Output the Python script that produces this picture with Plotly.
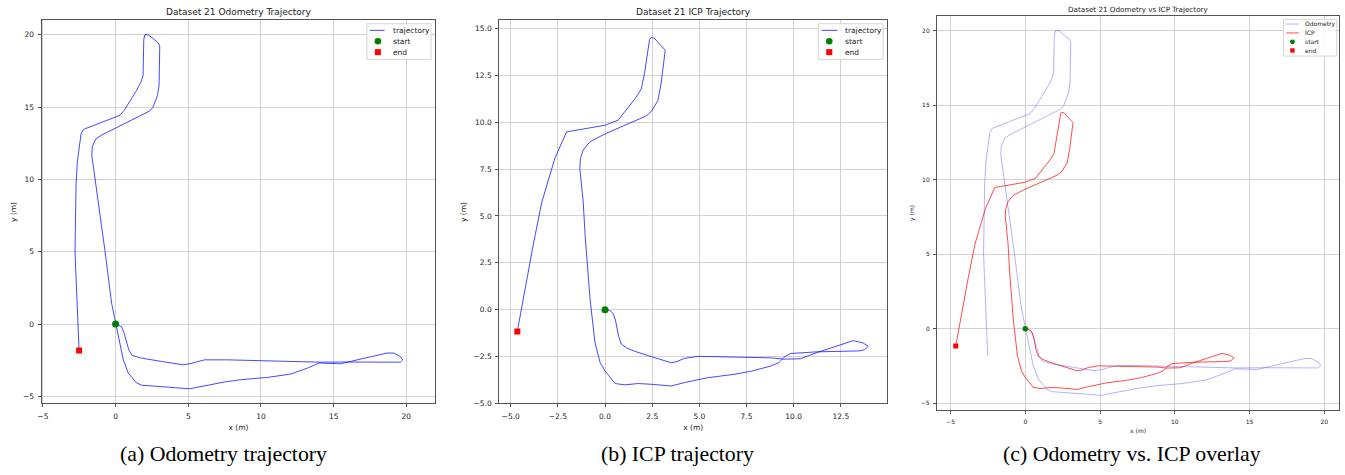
import plotly.graph_objects as go

# ---------------- data ----------------
odom_x = [0.0, 0.41, 0.59, 0.91, 1.14, 1.78, 3.15, 4.63, 5.09, 6.12, 7.72, 10.0, 12.28, 14.0,
          16.0, 17.76, 19.59, 19.75, 19.59, 19.13, 18.68, 16.62, 15.48, 14.0, 13.2, 12.05,
          10.46, 8.63, 7.49, 5.09, 1.78, 1.44, 0.87, 0.53, 0.18, -0.02, -0.27, -0.73, -1.19,
          -1.64, -1.6, -1.37, -0.96, -0.05, 2.35, 2.58, 2.88, 2.99, 3.04, 2.92, 2.24, 2.01,
          1.94, 1.89, 1.74, 1.44, 0.59, 0.30, -2.21, -2.37, -2.63, -2.72, -2.79, -2.74, -2.51]
odom_y = [0.0, -0.18, -0.64, -1.78, -2.17, -2.35, -2.58, -2.81, -2.74, -2.47, -2.47, -2.53,
          -2.6, -2.63, -2.62, -2.62, -2.63, -2.47, -2.24, -2.0, -2.0, -2.47, -2.74, -2.69,
          -3.04, -3.45, -3.68, -3.84, -4.0, -4.47, -4.22, -4.06, -3.38, -2.47, -0.87, 0.05,
          1.42, 5.07, 8.49, 11.69, 12.26, 12.79, 13.06, 13.52, 14.73, 15.0, 15.8, 16.48,
          19.22, 19.45, 20.0, 20.0, 19.68, 17.17, 16.71, 16.14, 14.77, 14.43, 13.45, 13.17,
          11.23, 9.63, 5.07, 3.7, -1.83]

icp_x = [0.0, 0.25, 0.42, 0.55, 0.72, 0.86, 1.13, 1.57, 2.27, 2.98, 3.5, 3.77, 4.21, 4.91,
         6.67, 8.79, 9.47, 10.35, 11.23, 12.46, 13.16, 13.68, 13.95, 13.77, 13.51, 11.23,
         9.82, 9.47, 9.21, 8.77, 7.72, 6.84, 5.44, 4.21, 3.51, 2.46, 1.75, 1.05, 0.53, 0.0,
         -0.26, -0.53, -0.79, -1.05, -1.16, -1.34, -1.3, -1.16, -0.81, -0.02, 1.04, 2.18,
         2.45, 2.8, 2.98, 3.19, 2.62, 2.45, 2.36, 2.1, 1.92, 1.65, 0.69, -0.02, -2.04,
         -2.66, -3.36, -3.8, -4.65]
icp_y = [0.0, -0.05, -0.19, -0.55, -1.42, -1.83, -2.04, -2.22, -2.45, -2.66, -2.83, -2.78,
         -2.6, -2.49, -2.52, -2.57, -2.64, -2.62, -2.29, -1.87, -1.65, -1.78, -1.95, -2.13,
         -2.2, -2.25, -2.34, -2.55, -2.83, -3.01, -3.29, -3.45, -3.63, -3.89, -4.07, -3.98,
         -3.94, -4.01, -3.94, -3.27, -2.83, -1.78, 0.51, 3.86, 5.79, 7.55, 8.07, 8.51, 8.95,
         9.36, 9.83, 10.33, 10.57, 11.15, 12.12, 13.84, 14.46, 14.53, 14.41, 12.65, 11.77,
         11.33, 10.1, 9.83, 9.48, 8.07, 5.7, 3.5, -1.16]

odom_start = (0.0, 0.0)
odom_end = (-2.51, -1.83)
icp_start = (0.0, 0.0)
icp_end = (-4.65, -1.16)

titles = ["Dataset 21 Odometry Trajectory", "Dataset 21 ICP Trajectory",
          "Dataset 21 Odometry vs ICP Trajectory"]
captions = ["(a) Odometry trajectory", "(b) ICP trajectory", "(c) Odometry vs. ICP overlay"]

# ---------------- layout helpers ----------------
W, H = 1345, 475
def px(x):
    return x / W
def py(y):
    return 1 - y / H

FONT = "DejaVu Sans"
TXT = "#222222"
GRID = "#d2d2d2"
FRAME = "#555555"

fig = go.Figure()

# panel a
fig.add_trace(go.Scatter(x=odom_x, y=odom_y, mode="lines", name="trajectory",
                         line=dict(color="rgba(0,0,255,0.72)", width=1),
                         xaxis="x", yaxis="y", showlegend=False))
fig.add_trace(go.Scatter(x=[odom_start[0]], y=[odom_start[1]], mode="markers", name="start",
                         marker=dict(color="#008000", size=7, symbol="circle"),
                         xaxis="x", yaxis="y", showlegend=False))
fig.add_trace(go.Scatter(x=[odom_end[0]], y=[odom_end[1]], mode="markers", name="end",
                         marker=dict(color="#ff0000", size=6, symbol="square"),
                         xaxis="x", yaxis="y", showlegend=False))
# panel b
fig.add_trace(go.Scatter(x=icp_x, y=icp_y, mode="lines", name="trajectory",
                         line=dict(color="rgba(0,0,255,0.72)", width=1),
                         xaxis="x2", yaxis="y2", showlegend=False))
fig.add_trace(go.Scatter(x=[icp_start[0]], y=[icp_start[1]], mode="markers", name="start",
                         marker=dict(color="#008000", size=7, symbol="circle"),
                         xaxis="x2", yaxis="y2", showlegend=False))
fig.add_trace(go.Scatter(x=[icp_end[0]], y=[icp_end[1]], mode="markers", name="end",
                         marker=dict(color="#ff0000", size=6, symbol="square"),
                         xaxis="x2", yaxis="y2", showlegend=False))
# panel c
fig.add_trace(go.Scatter(x=odom_x, y=odom_y, mode="lines", name="Odometry",
                         line=dict(color="rgba(0,0,255,0.3)", width=1),
                         xaxis="x3", yaxis="y3", showlegend=False))
fig.add_trace(go.Scatter(x=icp_x, y=icp_y, mode="lines", name="ICP",
                         line=dict(color="rgba(255,0,0,0.7)", width=1),
                         xaxis="x3", yaxis="y3", showlegend=False))
fig.add_trace(go.Scatter(x=[icp_start[0]], y=[icp_start[1]], mode="markers", name="start",
                         marker=dict(color="#008000", size=5.5, symbol="circle"),
                         xaxis="x3", yaxis="y3", showlegend=False))
fig.add_trace(go.Scatter(x=[icp_end[0]], y=[icp_end[1]], mode="markers", name="end",
                         marker=dict(color="#ff0000", size=5, symbol="square"),
                         xaxis="x3", yaxis="y3", showlegend=False))


def axis(domain, rng, dtick, fmt, fs, anchor, title, standoff, lblgap):
    return dict(domain=domain, range=rng, dtick=dtick, tick0=0, tickformat=fmt,
                showgrid=True, gridcolor=GRID, gridwidth=1, zeroline=False,
                showline=True, mirror=True, linecolor=FRAME, linewidth=1,
                ticks="outside", ticklen=3, tickwidth=1, tickcolor=FRAME,
                ticklabelstandoff=lblgap,
                tickfont=dict(family=FONT, size=fs, color=TXT),
                anchor=anchor, fixedrange=True,
                title=dict(text=title, font=dict(family=FONT, size=fs, color=TXT),
                           standoff=standoff))

ya_dom = [py(407.7), py(20.7)]
fig.update_layout(
    width=W, height=H,
    margin=dict(l=0, r=0, t=0, b=0),
    paper_bgcolor="white", plot_bgcolor="white",
    showlegend=False,
    xaxis=axis([px(37.7), px(432.7)], [-5.09, 22.0], 5, "", 7.5, "y", "x (m)", 4, 3),
    yaxis=axis(ya_dom, [-5.48, 20.98], 5, "", 7.5, "x", "y (m)", 5, 2),
    xaxis2=axis([px(496.7), px(885.7)], [-5.61, 14.95], 2.5, ".1f", 7.5, "y2", "x (m)", 4, 3),
    yaxis2=axis(ya_dom, [-5.0, 15.42], 2.5, ".1f", 7.5, "x2", "y (m)", 5, 2),
    xaxis3=axis([px(935.7), px(1339.3)], [-5.91, 21.0], 5, "", 6, "y3", "x (m)", 4, 3),
    yaxis3=axis([py(414.3), py(16)], [-5.45, 21.0], 5, "", 6, "x3", "y (m)", 5, 2),
)

annotations = []
# subplot titles
for cx, cy, t, fs in [(235.2, 12.5, titles[0], 9), (691.2, 12.5, titles[1], 9),
                      (1137.5, 10, titles[2], 7.2)]:
    annotations.append(dict(x=px(cx), y=py(cy), xref="paper", yref="paper", text=t,
                            showarrow=False, xanchor="center", yanchor="middle",
                            font=dict(family=FONT, size=fs, color=TXT)))
# captions
for cx, t in [(220.5, captions[0]), (675.5, captions[1]), (1131, captions[2])]:
    annotations.append(dict(x=px(cx), y=py(459), xref="paper", yref="paper", text=t,
                            showarrow=False, xanchor="center", yanchor="middle",
                            font=dict(family="Liberation Serif", size=21.8, color="black")))

shapes = []

def legend(box, items, line_x, mark_x, text_x, fs, msize):
    x0, y0, x1, y1 = box
    shapes.append(dict(type="rect", xref="paper", yref="paper",
                       x0=px(x0), x1=px(x1), y0=py(y1), y1=py(y0),
                       line=dict(color="#d5d5d5", width=1),
                       fillcolor="rgba(255,255,255,0.85)", layer="above"))
    for kind, color, label, yy in items:
        if kind == "line":
            shapes.append(dict(type="line", xref="paper", yref="paper",
                               x0=px(line_x[0]), x1=px(line_x[1]), y0=py(yy), y1=py(yy),
                               line=dict(color=color, width=1), layer="above"))
        elif kind == "circle":
            r = msize / 2
            shapes.append(dict(type="circle", xref="paper", yref="paper",
                               x0=px(mark_x - r), x1=px(mark_x + r),
                               y0=py(yy + r), y1=py(yy - r),
                               line=dict(width=0), fillcolor=color, layer="above"))
        else:
            r = msize / 2 - 0.3
            shapes.append(dict(type="rect", xref="paper", yref="paper",
                               x0=px(mark_x - r), x1=px(mark_x + r),
                               y0=py(yy + r), y1=py(yy - r),
                               line=dict(width=0), fillcolor=color, layer="above"))
        annotations.append(dict(x=px(text_x), y=py(yy), xref="paper", yref="paper",
                                text=label, showarrow=False, xanchor="left",
                                yanchor="middle",
                                font=dict(family=FONT, size=fs, color=TXT)))

legend((364, 24, 428.3, 60),
       [("line", "rgba(0,0,255,0.72)", "trajectory", 30.7),
        ("circle", "#008000", "start", 41.7),
        ("square", "#ff0000", "end", 52.7)],
       (366.7, 381.7), 375, 388.5, 7.5, 6.7)
legend((816.7, 24, 881.7, 60),
       [("line", "rgba(0,0,255,0.72)", "trajectory", 30.7),
        ("circle", "#008000", "start", 41.7),
        ("square", "#ff0000", "end", 52.7)],
       (820, 836), 827.7, 841.2, 7.5, 6.7)
legend((1283.3, 19.5, 1336.7, 56.7),
       [("line", "rgba(0,0,255,0.3)", "Odometry", 24.3),
        ("line", "rgba(255,0,0,0.7)", "ICP", 33.3),
        ("circle", "#008000", "start", 42.3),
        ("square", "#ff0000", "end", 51.0)],
       (1286, 1298.7), 1292.3, 1303, 6, 5)

fig.update_layout(annotations=annotations, shapes=shapes)
fig.write_html("out.html")
